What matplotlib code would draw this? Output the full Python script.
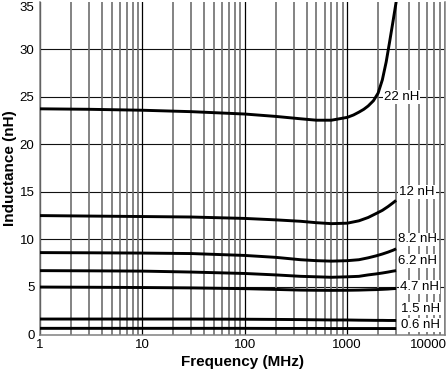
import matplotlib
matplotlib.use("Agg")
import matplotlib.pyplot as plt
from matplotlib.ticker import LogLocator, NullFormatter, FixedLocator

plt.rcParams['font.family'] = ['Liberation Sans', 'DejaVu Sans']

# frequency points (MHz) shared by the flatter curves
freq = [1, 3, 10, 30, 100, 200, 350, 500, 700, 1000, 1300, 1600, 1900, 2200, 2500, 2800, 3000]
# 22 nH curve has its own points, denser near self-resonance
freq_22 = [1, 3, 10, 30, 100, 200, 350, 500, 700, 1000, 1150, 1300, 1450, 1600, 1800, 2000, 2200, 2400, 2600, 2800, 3000]

# inductance (nH)
l_22 = [23.75, 23.7, 23.6, 23.45, 23.2, 22.95, 22.7, 22.55, 22.55, 22.85, 23.1, 23.4, 23.7, 24.05, 24.6, 25.4, 26.8, 28.7, 30.9, 33.0, 35.0]
l_12 = [12.5, 12.45, 12.4, 12.35, 12.2, 12.05, 11.9, 11.75, 11.65, 11.7, 11.95, 12.3, 12.7, 13.05, 13.45, 13.85, 14.1]
l_8_2 = [8.6, 8.58, 8.55, 8.5, 8.3, 8.1, 7.85, 7.75, 7.7, 7.75, 7.85, 8.05, 8.25, 8.45, 8.65, 8.85, 9.0]
l_6_2 = [6.7, 6.68, 6.65, 6.55, 6.4, 6.25, 6.1, 6.05, 6.0, 6.05, 6.1, 6.25, 6.35, 6.45, 6.55, 6.65, 6.7]
l_4_7 = [4.97, 4.95, 4.92, 4.88, 4.8, 4.72, 4.65, 4.63, 4.62, 4.63, 4.65, 4.68, 4.7, 4.73, 4.76, 4.8, 4.82]
l_1_5 = [1.6, 1.6, 1.6, 1.6, 1.58, 1.56, 1.54, 1.52, 1.5, 1.5, 1.48, 1.47, 1.46, 1.46, 1.45, 1.45, 1.45]
l_0_6 = [0.62, 0.62, 0.62, 0.62, 0.62, 0.61, 0.61, 0.61, 0.6, 0.6, 0.6, 0.6, 0.6, 0.6, 0.6, 0.6, 0.6]

curves = [l_12, l_8_2, l_6_2, l_4_7, l_1_5, l_0_6]

# curve labels: text, x (MHz), y (nH)
label_text = ['22 nH', '12 nH', '8.2 nH', '6.2 nH', '4.7 nH', '1.5 nH', '0.6 nH']
label_x = [3400, 4800, 4800, 4800, 5100, 5200, 5200]
label_y = [25, 15, 10, 7.7, 4.95, 2.7, 0.95]

x_ticks = [1, 10, 100, 1000]
x_tick_labels = ['1', '10', '100', '1000']
y_ticks = [0, 5, 10, 15, 20, 25, 30, 35]
y_grid = [5, 10, 15, 20, 25, 30]

fig = plt.figure(figsize=(4.48, 3.72), dpi=100)
ax = fig.add_axes([0.0893, 0.099, 0.904, 0.8955])

ax.set_xscale('log')
ax.set_xlim(1, 9000)
ax.set_ylim(-0.1, 35)

# grid lines
ax.xaxis.set_major_locator(FixedLocator(x_ticks))
ax.xaxis.set_minor_locator(LogLocator(base=10, subs=range(2, 10)))
ax.xaxis.set_minor_formatter(NullFormatter())
ax.grid(which='major', axis='x', color='black', lw=0.9, zorder=1)
ax.grid(which='minor', axis='x', color='#6e6e6e', lw=1.2, zorder=1)
for yv in y_grid:
    ax.axhline(yv, color='#111111', lw=0.8, zorder=1)

ax.plot(freq_22, l_22, color='black', lw=2.1, zorder=3)
for vals in curves:
    ax.plot(freq, vals, color='black', lw=2.1, solid_capstyle='butt', zorder=3)

for t, xv, yv in zip(label_text, label_x, label_y):
    ax.text(xv, yv, t, ha='center', va='center', fontsize=9.5, zorder=5,
            bbox=dict(facecolor='white', edgecolor='none', pad=0.6))

ax.set_xticks(x_ticks)
ax.set_xticklabels(x_tick_labels)
ax.set_yticks(y_ticks)
ax.tick_params(axis='both', which='both', length=0, labelsize=9.5)
ax.tick_params(axis='x', pad=2.5)
ax.tick_params(axis='y', pad=4)
for lbl in ax.get_yticklabels():
    if lbl.get_text() == '35':
        lbl.set_verticalalignment('top')
ax.annotate('10000', xy=(1, 0), xycoords='axes fraction', xytext=(1.5, -2.5),
            textcoords='offset points', ha='right', va='top', fontsize=9.5)

for side in ['left', 'bottom', 'right']:
    ax.spines[side].set_color('#808080')
    ax.spines[side].set_linewidth(1.1)
ax.spines['top'].set_visible(False)

ax.set_xlabel('Frequency (MHz)', fontsize=11, fontweight='bold', labelpad=3)
ax.set_ylabel('Inductance (nH)', fontsize=11, fontweight='bold', labelpad=2)

fig.savefig('out.png', dpi=100)
